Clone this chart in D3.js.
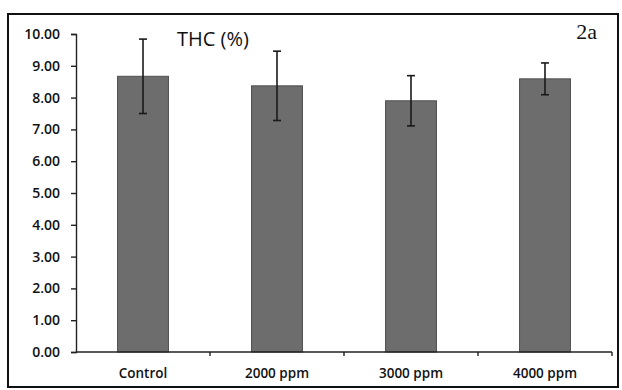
<!DOCTYPE html>
<html>
<head>
<meta charset="utf-8">
<script src="https://cdn.jsdelivr.net/npm/d3@7"></script>
<style>
  body { margin: 0; background: #fff; }
  svg text { font-family: "Open Sans", sans-serif; fill: #111; }
</style>
</head>
<body>
<div id="chart"></div>
<script>
// THC (%) by treatment
var categories = ["Control", "2000 ppm", "3000 ppm", "4000 ppm"];
var thc_mean = [8.67, 8.37, 7.90, 8.59];
var thc_sd = [1.17, 1.09, 0.79, 0.50];
var y_ticks = [0, 1, 2, 3, 4, 5, 6, 7, 8, 9, 10];

var width = 622, height = 390;
var margin = {top: 34, right: 10, bottom: 38, left: 76};

var svg = d3.select("#chart").append("svg")
  .attr("width", width)
  .attr("height", height);

// outer frame
svg.append("rect")
  .attr("x", 8).attr("y", 14)
  .attr("width", 610).attr("height", 373)
  .attr("fill", "none")
  .attr("stroke", "#111")
  .attr("stroke-width", 2);

var x = d3.scaleBand()
  .domain(categories)
  .range([margin.left, width - margin.right])
  .paddingInner(0.62)
  .paddingOuter(0.31);

var y = d3.scaleLinear()
  .domain([0, 10])
  .range([height - margin.bottom, margin.top]);

var data = categories.map(function(c, i) {
  return {cat: c, mean: thc_mean[i], sd: thc_sd[i]};
});

// bars
svg.append("g").selectAll("rect")
  .data(data)
  .enter()
  .append("rect")
  .attr("x", function(d) { return x(d.cat); })
  .attr("y", function(d) { return y(d.mean); })
  .attr("width", x.bandwidth())
  .attr("height", function(d) { return y(0) - y(d.mean); })
  .attr("fill", "#6d6d6d")
  .attr("stroke", "#505050")
  .attr("stroke-width", 1);

// error bars
var err = svg.append("g").attr("stroke", "#1a1a1a").attr("stroke-width", 1.6);
data.forEach(function(d) {
  var cx = x(d.cat) + x.bandwidth() / 2;
  err.append("line")
    .attr("x1", cx).attr("x2", cx)
    .attr("y1", y(d.mean + d.sd)).attr("y2", y(d.mean - d.sd));
  err.append("line")
    .attr("x1", cx - 4).attr("x2", cx + 4)
    .attr("y1", y(d.mean + d.sd)).attr("y2", y(d.mean + d.sd));
  err.append("line")
    .attr("x1", cx - 4).attr("x2", cx + 4)
    .attr("y1", y(d.mean - d.sd)).attr("y2", y(d.mean - d.sd));
});

// y axis
var yAxis = svg.append("g")
  .attr("transform", "translate(" + margin.left + ",0)")
  .call(d3.axisLeft(y).tickValues(y_ticks).tickSize(5).tickPadding(11)
    .tickFormat(d3.format(".2f")));
yAxis.selectAll("text").style("font-size", "14px").style("font-weight", "600");
yAxis.selectAll("line, path").attr("stroke", "#222").attr("stroke-width", 1.4);

// x axis, ticks between categories
var xAxisG = svg.append("g")
  .attr("transform", "translate(0," + y(0) + ")");
xAxisG.append("line")
  .attr("x1", margin.left).attr("x2", width - margin.right)
  .attr("y1", 0).attr("y2", 0)
  .attr("stroke", "#222").attr("stroke-width", 1.6);
var step = x.step();
categories.forEach(function(c) {
  var edge = x(c) + x.bandwidth() / 2 + step / 2;
  xAxisG.append("line")
    .attr("x1", edge).attr("x2", edge)
    .attr("y1", 0).attr("y2", 4)
    .attr("stroke", "#222").attr("stroke-width", 1.4);
});
xAxisG.selectAll("text.cat")
  .data(categories)
  .enter()
  .append("text")
  .attr("class", "cat")
  .attr("x", function(d) { return x(d) + x.bandwidth() / 2; })
  .attr("y", 26)
  .attr("text-anchor", "middle")
  .style("font-size", "13.5px")
  .style("font-weight", "600")
  .text(function(d) { return d; });

// title and panel label
svg.append("text")
  .attr("x", 177).attr("y", 46)
  .style("font-size", "20px")
  .text("THC (%)");

svg.append("text")
  .attr("x", 597).attr("y", 39)
  .attr("text-anchor", "end")
  .style("font-family", "'Liberation Serif', serif")
  .style("font-size", "22px")
  .text("2a");
</script>
</body>
</html>
